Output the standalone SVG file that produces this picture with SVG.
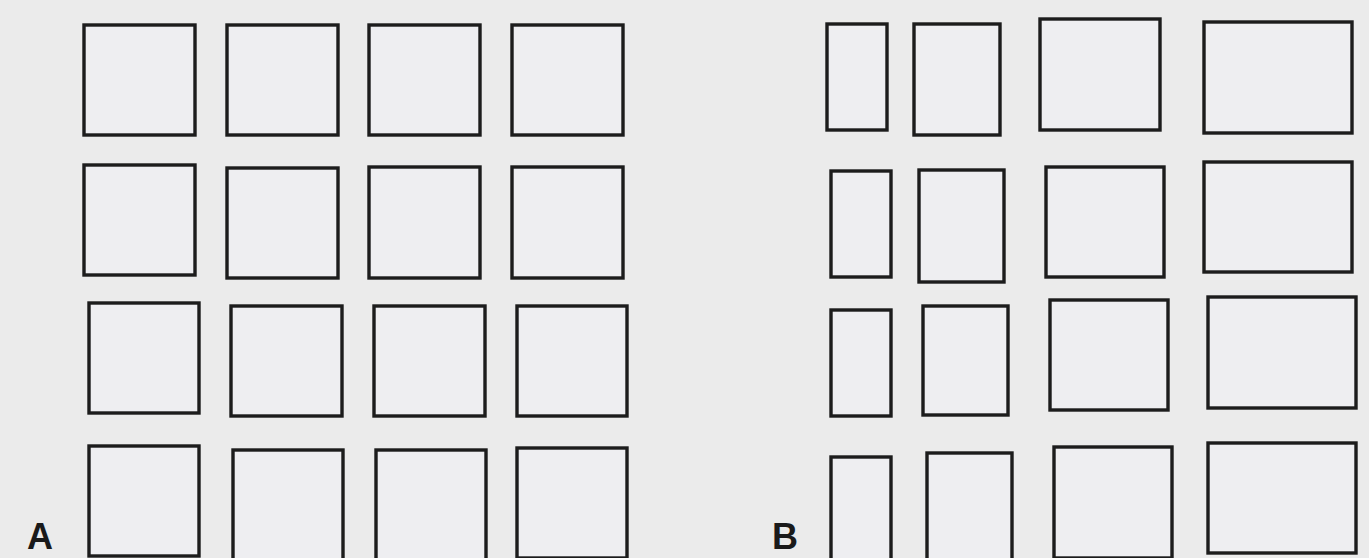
<svg xmlns="http://www.w3.org/2000/svg" width="1369" height="558" viewBox="0 0 1369 558">
<style>
.b{fill:#eeeef1;stroke:#1c1c1c;stroke-width:3.4}
.l{font-family:"Liberation Sans",Arial,sans-serif;font-weight:bold;font-size:36px;fill:#1a1a1a}
</style>
<rect width="1369" height="558" fill="#ebebeb"/>
<g id="gridA">
<g id="a11"><rect class="b" x="84" y="25" width="111" height="110"/></g>
<g id="a12"><rect class="b" x="227" y="25" width="111" height="110"/></g>
<g id="a13"><rect class="b" x="369" y="25" width="111" height="110"/></g>
<g id="a14"><rect class="b" x="512" y="25" width="111" height="110"/></g>
<g id="a21"><rect class="b" x="84" y="165" width="111" height="110"/></g>
<g id="a22"><rect class="b" x="227" y="168" width="111" height="110"/></g>
<g id="a23"><rect class="b" x="369" y="167" width="111" height="111"/></g>
<g id="a24"><rect class="b" x="512" y="167" width="111" height="111"/></g>
<g id="a31"><rect class="b" x="89" y="303" width="110" height="110"/></g>
<g id="a32"><rect class="b" x="231" y="306" width="111" height="110"/></g>
<g id="a33"><rect class="b" x="374" y="306" width="111" height="110"/></g>
<g id="a34"><rect class="b" x="517" y="306" width="110" height="110"/></g>
<g id="a41"><rect class="b" x="89" y="446" width="110" height="110"/></g>
<g id="a42"><rect class="b" x="233" y="450" width="110" height="110"/></g>
<g id="a43"><rect class="b" x="376" y="450" width="110" height="110"/></g>
<g id="a44"><rect class="b" x="517" y="448" width="110" height="110"/></g>
</g>
<g id="gridB">
<g id="b11"><rect class="b" x="827" y="24" width="60" height="106"/></g>
<g id="b12"><rect class="b" x="914" y="24" width="86" height="111"/></g>
<g id="b13"><rect class="b" x="1040" y="19" width="120" height="111"/></g>
<g id="b14"><rect class="b" x="1204" y="22" width="148" height="111"/></g>
<g id="b21"><rect class="b" x="831" y="171" width="60" height="106"/></g>
<g id="b22"><rect class="b" x="919" y="170" width="85" height="112"/></g>
<g id="b23"><rect class="b" x="1046" y="167" width="118" height="110"/></g>
<g id="b24"><rect class="b" x="1204" y="162" width="148" height="110"/></g>
<g id="b31"><rect class="b" x="831" y="310" width="60" height="106"/></g>
<g id="b32"><rect class="b" x="923" y="306" width="85" height="109"/></g>
<g id="b33"><rect class="b" x="1050" y="300" width="118" height="110"/></g>
<g id="b34"><rect class="b" x="1208" y="297" width="148" height="111"/></g>
<g id="b41"><rect class="b" x="831" y="457" width="60" height="106"/></g>
<g id="b42"><rect class="b" x="927" y="453" width="85" height="110"/></g>
<g id="b43"><rect class="b" x="1054" y="447" width="118" height="111"/></g>
<g id="b44"><rect class="b" x="1208" y="443" width="148" height="110"/></g>
</g>
<g id="labels">
<text class="l" x="27" y="549">A</text>
<text class="l" x="772" y="549">B</text>
</g>
</svg>
